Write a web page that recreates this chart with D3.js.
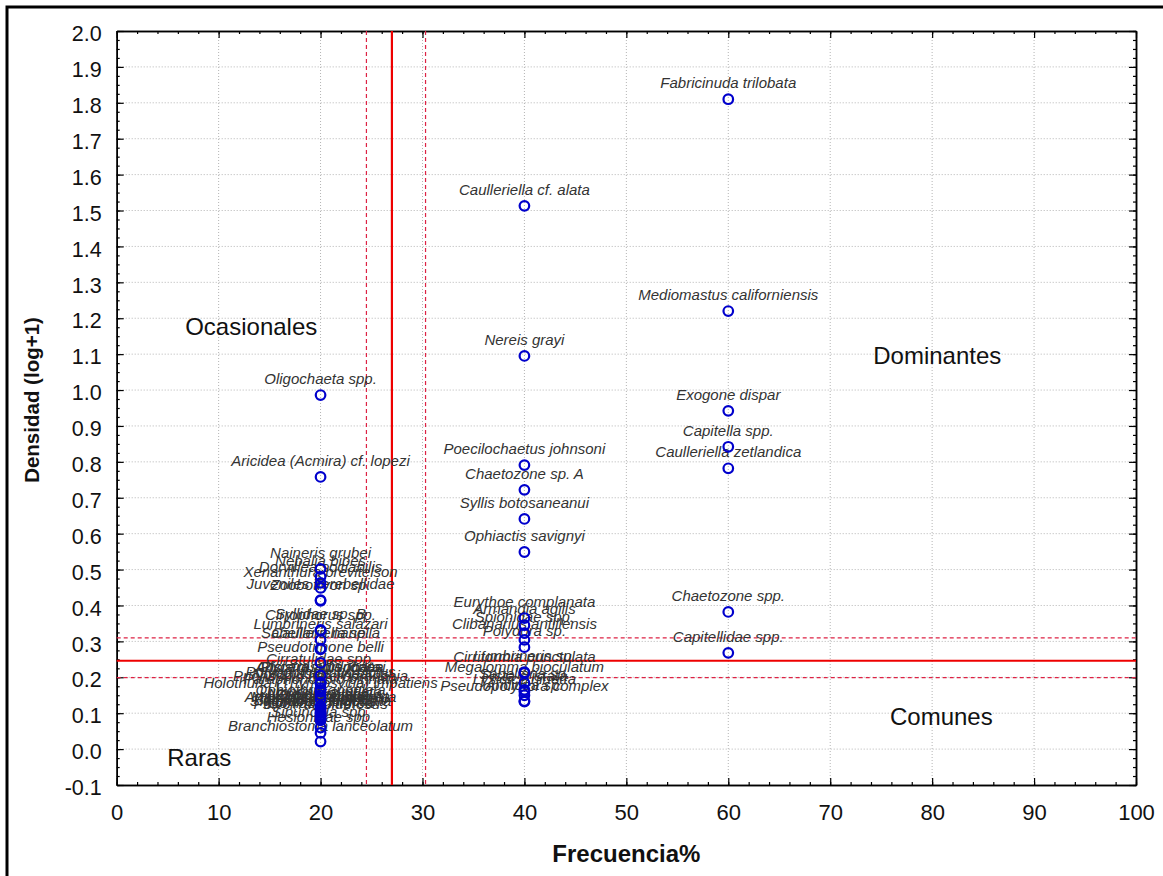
<!DOCTYPE html>
<html>
<head>
<meta charset="utf-8" />
<title>Frecuencia vs densidad</title>
<script src="https://d3js.org/d3.v7.min.js"></script>
<style>
  body { margin: 0; padding: 0; background: #fff; }
  svg { display: block; font-family: "Liberation Sans", Arial, sans-serif; }
</style>
</head>
<body>
<div id="chart"></div>
<script>

// especies, frecuencia (%) y densidad (log+1)
const especies = [
  'Fabricinuda trilobata', 'Caulleriella cf. alata', 'Mediomastus californiensis', 'Nereis grayi',
  'Oligochaeta spp.', 'Exogone dispar', 'Capitella spp.', 'Caulleriella zetlandica',
  'Poecilochaetus johnsoni', 'Aricidea (Acmira) cf. lopezi', 'Chaetozone sp. A', 'Syllis botosaneanui',
  'Ophiactis savignyi', 'Chaetozone spp.', 'Capitellidae spp.',
  // x = 40, grupo bajo
  'Eurythoe complanata', 'Armandia agilis', 'Spionidae spp.', 'Clibanarius antillensis',
  'Polydora sp.', 'Lumbrineris sp.', 'Cirriformia punctulata', 'Megalomma bioculatum',
  'Sabellaria sp.', 'Pista cristata', 'Lysidice ninetta', 'Aricidea sp.', 'Pseudopolydora complex',
  // x = 20
  'Naineris grubei', 'Nebalia bipes', 'Dorvillea sociabilis', 'Xenanthura brevitelson',
  'Juveniles Terebellidae', 'Zoobotryon sp.', 'Syllidae sp. B', 'Cirrophorus spp.',
  'Lumbrineris salazari', 'Sabellaria nanella', 'Caulleriella sp.', 'Pseudotithone belli',
  'Cirratulidae spp.', 'Ancistrosyllis jonesi', 'Glycera americana', 'Pista quadrilobata',
  'Polyophthalmus pictus', 'Notomastus lineatus', 'Prionospio heterobranchia', 'Paraprionospio pinnata',
  'Holothuria (Thymiosycia) impatiens', 'Ophiothrix angulata', 'Lumbrineris inflata', 'Nereididae spp.',
  'Eunice vittata', 'Marphysa sanguinea', 'Amphipholis squamata', 'Platynereis dumerilii',
  'Paraonis fulgens', 'Sigambra tentaculata', 'Goniada littorea', 'Polycirrus plumosus',
  'Branchiostoma lanceolatum', 'Hesionidae spp.', 'Sipuncula spp.'
]
const frecuencia = [
  60, 40, 60, 40,
  20, 60, 60, 60,
  40, 20, 40, 40,
  40, 60, 60,
  40, 40, 40, 40,
  40, 40, 40, 40,
  40, 40, 40, 40, 40,
  20, 20, 20, 20,
  20, 20, 20, 20,
  20, 20, 20, 20,
  20, 20, 20, 20,
  20, 20, 20, 20,
  20, 20, 20, 20,
  20, 20, 20, 20,
  20, 20, 20, 20,
  20, 20, 20
]
const densidad = [
  1.81, 1.513, 1.22, 1.095,
  0.986, 0.942, 0.842, 0.782,
  0.791, 0.758, 0.722, 0.641,
  0.549, 0.382, 0.268,
  0.365, 0.345, 0.323, 0.304,
  0.284, 0.214, 0.212, 0.184,
  0.165, 0.16, 0.15, 0.134, 0.132,
  0.502, 0.48, 0.463, 0.449,
  0.415, 0.413, 0.332, 0.33,
  0.304, 0.28, 0.278, 0.24,
  0.205, 0.185, 0.184, 0.183,
  0.17, 0.165, 0.16, 0.15,
  0.14, 0.12, 0.115, 0.11,
  0.105, 0.1, 0.1, 0.095,
  0.09, 0.09, 0.085, 0.08,
  0.021, 0.045, 0.06
]

// lineas de corte (media y limites)
const corteFrecuencia = [27.0]
const corteFrecuenciaLim = [24.5, 30.3]
const corteDensidad = [0.246]
const corteDensidadLim = [0.310, 0.199]

// categorias de los cuadrantes, en unidades de los ejes
const cuadrantes = ['Ocasionales', 'Dominantes', 'Comunes', 'Raras']
const cuadranteX = [13.2, 80.5, 80.9, 8.1]
const cuadranteY = [1.153, 1.073, 0.067, -0.046]

const xTicks = d3.range(0, 101, 10)
const yTicks = d3.range(-1, 21).map(d => d / 10)

const W = 1163, H = 876
const x = d3.scaleLinear().domain([0, 100]).range([116.7, 1136])
const y = d3.scaleLinear().domain([-0.1, 2.0]).range([785, 31])

const svg = d3.select('#chart').append('svg')
  .attr('width', W)
  .attr('height', H)

// marco exterior
svg.append('rect')
  .attr('x', 7).attr('y', 7)
  .attr('width', W + 20).attr('height', H + 20)
  .attr('fill', '#fff')
  .attr('stroke', '#000')
  .attr('stroke-width', 3)

const x0 = x.range()[0], x1 = x.range()[1]
const y0 = y.range()[0], y1 = y.range()[1]

// rejilla punteada
svg.append('g').selectAll('line')
  .data(xTicks.filter(d => d > 0 && d < 100))
  .enter().append('line')
  .attr('x1', d => x(d)).attr('x2', d => x(d))
  .attr('y1', y1).attr('y2', y0)
  .attr('stroke', '#b4b4b4')
  .attr('stroke-dasharray', '1,2')
svg.append('g').selectAll('line')
  .data(yTicks.filter(d => d > -0.1 && d < 2.0))
  .enter().append('line')
  .attr('x1', x0).attr('x2', x1)
  .attr('y1', d => y(d)).attr('y2', d => y(d))
  .attr('stroke', '#b4b4b4')
  .attr('stroke-dasharray', '1,2')

// ejes con marcas hacia dentro
const minorX = d3.range(0, 101, 2)
const minorY = d3.range(-4, 81).map(d => d / 40)

const axisStyle = g => {
  g.select('.domain').attr('stroke', '#000').attr('stroke-width', 1.5)
  g.selectAll('.tick line').attr('stroke', '#000').attr('stroke-width', 1.2)
}

svg.append('g')
  .attr('transform', 'translate(0,' + y0 + ')')
  .call(d3.axisBottom(x).tickValues(minorX).tickSize(-3).tickSizeOuter(0).tickFormat(''))
  .call(axisStyle)
svg.append('g')
  .attr('transform', 'translate(0,' + y1 + ')')
  .call(d3.axisTop(x).tickValues(minorX).tickSize(-3).tickSizeOuter(0).tickFormat(''))
  .call(axisStyle)
svg.append('g')
  .attr('transform', 'translate(' + x0 + ',0)')
  .call(d3.axisLeft(y).tickValues(minorY).tickSize(-3).tickSizeOuter(0).tickFormat(''))
  .call(axisStyle)
svg.append('g')
  .attr('transform', 'translate(' + x1 + ',0)')
  .call(d3.axisRight(y).tickValues(minorY).tickSize(-3).tickSizeOuter(0).tickFormat(''))
  .call(axisStyle)

const xAxis = svg.append('g')
  .attr('transform', 'translate(0,' + y0 + ')')
  .call(d3.axisBottom(x).tickValues(xTicks).tickSize(-7).tickSizeOuter(0).tickPadding(19))
  .call(axisStyle)
xAxis.selectAll('text')
  .attr('font-size', 22).attr('fill', '#111').attr('font-family', '"Liberation Sans", Arial')

svg.append('g')
  .attr('transform', 'translate(0,' + y1 + ')')
  .call(d3.axisTop(x).tickValues(xTicks).tickSize(-7).tickSizeOuter(0).tickFormat(''))
  .call(axisStyle)

const yAxis = svg.append('g')
  .attr('transform', 'translate(' + x0 + ',0)')
  .call(d3.axisLeft(y).tickValues(yTicks).tickSize(-7).tickSizeOuter(0).tickPadding(15)
    .tickFormat(d => d.toFixed(1)))
  .call(axisStyle)
yAxis.selectAll('text')
  .attr('font-size', 21.5).attr('fill', '#111').attr('dy', '0.45em').attr('font-family', '"Liberation Sans", Arial')

svg.append('g')
  .attr('transform', 'translate(' + x1 + ',0)')
  .call(d3.axisRight(y).tickValues(yTicks).tickSize(-7).tickSizeOuter(0).tickFormat(''))
  .call(axisStyle)

// titulos de ejes
svg.append('text')
  .attr('x', (x0 + x1) / 2).attr('y', 862)
  .attr('text-anchor', 'middle')
  .attr('font-size', 24).attr('font-weight', 'bold').attr('fill', '#111')
  .text('Frecuencia%')
svg.append('text')
  .attr('transform', 'translate(39,' + 400 + ') rotate(-90)')
  .attr('text-anchor', 'middle')
  .attr('font-size', 20.5).attr('font-weight', 'bold').attr('fill', '#111')
  .text('Densidad (log+1)')

// lineas de corte
const corte = svg.append('g')
corte.selectAll('.vlim').data(corteFrecuenciaLim).enter().append('line')
  .attr('x1', d => x(d)).attr('x2', d => x(d)).attr('y1', y1).attr('y2', y0)
  .attr('stroke', '#dd2244').attr('stroke-width', 1.2).attr('stroke-dasharray', '4,3')
corte.selectAll('.hlim').data(corteDensidadLim).enter().append('line')
  .attr('x1', x0).attr('x2', x1).attr('y1', d => y(d)).attr('y2', d => y(d))
  .attr('stroke', '#dd2244').attr('stroke-width', 1.2).attr('stroke-dasharray', '4,3')
corte.selectAll('.v').data(corteFrecuencia).enter().append('line')
  .attr('x1', d => x(d)).attr('x2', d => x(d)).attr('y1', y1).attr('y2', y0)
  .attr('stroke', '#ee0000').attr('stroke-width', 2.2)
corte.selectAll('.h').data(corteDensidad).enter().append('line')
  .attr('x1', x0).attr('x2', x1).attr('y1', d => y(d)).attr('y2', d => y(d))
  .attr('stroke', '#ee0000').attr('stroke-width', 2.2)

// puntos y etiquetas
const datos = especies.map((e, i) => ({ nombre: e, f: frecuencia[i], d: densidad[i] }))

svg.append('g').selectAll('text')
  .data(datos)
  .enter().append('text')
  .attr('x', d => x(d.f))
  .attr('y', d => y(d.d) - 11)
  .attr('text-anchor', 'middle')
  .attr('font-size', 15)
  .attr('font-style', 'italic')
  .attr('fill', '#333')
  .text(d => d.nombre)

svg.append('g').selectAll('circle')
  .data(datos)
  .enter().append('circle')
  .attr('cx', d => x(d.f))
  .attr('cy', d => y(d.d))
  .attr('r', 4.8)
  .attr('fill', 'none')
  .attr('stroke', '#0000cc')
  .attr('stroke-width', 2.2)

// cuadrantes
svg.append('g').selectAll('text')
  .data(cuadrantes)
  .enter().append('text')
  .attr('x', (d, i) => x(cuadranteX[i]))
  .attr('y', (d, i) => y(cuadranteY[i]))
  .attr('text-anchor', 'middle')
  .attr('font-size', 24)
  .attr('fill', '#111')
  .text(d => d)

</script>
</body>
</html>
